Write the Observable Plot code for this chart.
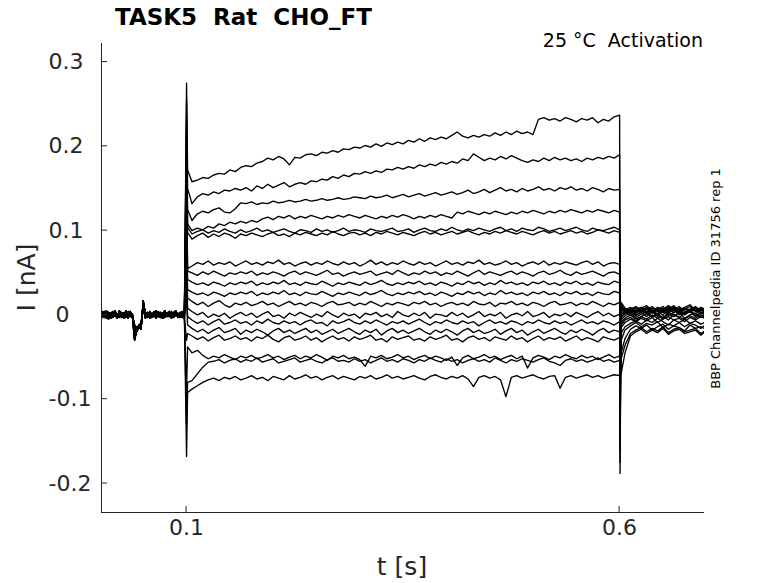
<!DOCTYPE html>
<html><head><meta charset="utf-8">
<script src="https://cdn.jsdelivr.net/npm/d3@7"></script>
<script src="https://cdn.jsdelivr.net/npm/@observablehq/plot@0.6"></script>
<style>body{margin:0;background:#fff;} svg{display:block}</style>
</head><body><div id="chart"></div>
<script>
// ---- axes / labels ----
const xDomain = [0.0018, 0.698];
const yDomain = [-0.2344, 0.322];
const xTicks = [0.1, 0.6];
const xTickLabels = ["0.1", "0.6"];
const yTicks = [-0.2, -0.1, 0, 0.1, 0.2, 0.3];
const yTickLabels = ["-0.2", "-0.1", "0", "0.1", "0.2", "0.3"];
const titleText = "TASK5\u00a0 Rat\u00a0 CHO_FT";
const condText = "25 °C\u00a0 Activation";
const sideText = "BBP Channelpedia ID 31756 rep 1";
const xLabel = "t [s]";
const yLabel = "I [nA]";

// ---- sampling (s) ----
const preDt = 0.0025;     // pre-pulse samples at k*preDt, k = 0..39
const stepDt = 0.00625;   // pulse samples at 0.1 + k*stepDt (k=0 read just after the onset spike)
const onsetT = 0.1, offsetT = 0.6;

// ---- values in pA (1/1000 nA) ----
const preA = [2,-3,4,-1,3,-4,1,5,-2,3,-3,2,-1,4,-2,1,-22,-14,-16,-12,14,3,-2,4,-3,1,5,-2,3,-4,2,-1,4,-3,2,5,-2,1,-3,3];
const preB = [-2,4,-3,1,-5,2,-1,3,-4,5,-1,2,-3,1,4,-2,-30,-18,-13,-17,17,-1,3,-4,2,-2,4,-1,-3,2,5,-2,1,-4,3,-1,2,-3,4,-1];
const preC = [4,-1,2,-4,3,1,-3,2,-2,4,1,-4,3,-1,2,-3,-18,-16,-12,-10,8,-4,1,3,-2,4,-3,2,-1,-4,3,1,-2,4,-3,2,-2,3,1,-4];
const preD = [-4,2,-1,5,-3,2,4,-2,1,-3,3,-1,5,-4,2,-1,-12,-20,-15,-14,11,2,-3,1,-1,3,-4,4,-2,1,-3,2,4,-1,-2,3,-3,1,2,-2];

const onPeak  = [275,255,235,215,195,180,160,140,120,100,80,60,40,20,-30,-90,-130,-168];
const offPeak = [-188,-175,-160,-145,-130,-115,-95,-80,-65,-50,-35,-22,-10,5,15,30,40,50];

const sweepA = [172,158,160,163,162,166,168,167,172,170,175,177,176,180,182,186,184,188,185,178,187,186,190,191,189,193,192,195,193,197,196,199,198,201,199,203,200,204,202,205,203,207,205,209,206,210,208,211,209,213,217,212,210,213,211,214,212,216,213,217,214,218,215,217,214,232,234,231,233,230,234,232,229,233,231,234,228,232,230,235,237];
const sweepB = [150,132,140,144,142,146,144,148,147,150,148,151,147,153,150,155,151,154,157,152,155,157,155,159,158,161,160,164,162,166,164,168,167,170,168,171,169,173,172,175,173,176,174,178,176,179,177,181,179,182,180,185,183,191,187,183,186,184,188,185,189,186,183,181,184,182,186,183,187,184,186,183,185,182,186,184,187,185,188,186,190];
const sweepC = [125,112,120,123,121,125,127,122,121,126,133,132,134,131,133,132,135,133,134,136,134,135,137,135,136,138,136,137,139,137,138,140,139,138,141,139,140,142,139,141,143,140,142,144,141,143,145,142,144,146,143,145,148,144,146,149,145,148,151,147,149,146,150,147,149,152,148,150,147,151,149,152,148,150,147,151,149,146,150,148,149];
const sweepD = [108,100,103,101,105,103,108,106,110,108,111,109,112,110,114,116,113,117,115,118,114,117,115,118,116,114,117,115,118,116,119,117,115,118,116,114,117,115,118,116,119,117,114,117,115,118,116,119,117,115,122,120,123,121,119,122,120,123,121,119,122,120,123,121,124,122,120,123,121,124,122,125,123,121,124,122,125,123,121,124,122];
const sweepE = [104,96,99,101,97,100,98,102,99,97,101,98,100,103,99,101,98,100,102,99,97,101,100,98,102,99,101,98,100,103,99,101,100,98,102,100,99,101,103,99,100,102,98,101,103,100,99,102,100,104,101,99,102,100,103,101,99,102,104,100,102,99,103,101,100,104,102,99,101,103,100,102,104,101,99,103,101,100,102,104,101];
const sweepF = [98,90,94,97,92,96,93,97,95,91,96,94,97,95,93,96,98,94,96,93,97,95,98,96,94,97,95,99,96,94,97,98,95,97,94,98,96,99,97,95,98,96,94,97,99,96,98,95,97,99,96,98,100,97,95,98,96,99,97,100,98,96,99,97,95,98,100,97,99,96,98,100,97,99,96,98,101,99,97,100,98];
const sweepG = [55,58,62,60,64,59,62,60,63,58,61,64,60,62,59,63,61,65,60,62,58,61,63,59,62,60,64,61,59,63,60,62,58,61,65,60,63,59,62,60,64,61,59,63,60,62,58,61,64,60,62,59,63,61,65,60,62,59,61,64,60,62,58,61,63,60,64,59,62,60,63,61,59,62,64,60,63,58,61,62,60];
const sweepH = [52,50,47,51,48,52,49,46,50,48,51,49,52,47,50,48,51,49,46,50,52,48,51,49,47,50,53,48,50,46,49,51,48,50,52,47,49,51,48,53,50,47,50,48,52,49,51,47,50,48,52,49,46,50,53,48,51,49,47,50,52,48,51,49,46,50,52,48,50,53,49,47,51,48,50,52,49,46,50,51,48];
const sweepI = [42,39,36,38,35,39,37,34,38,36,39,37,40,35,38,36,39,37,41,36,38,35,39,37,36,40,37,34,38,36,39,37,35,39,36,38,41,37,35,38,36,39,37,40,36,38,35,39,37,34,38,36,40,37,39,35,38,36,41,37,39,36,38,35,39,37,40,36,38,35,39,37,40,36,38,35,39,37,36,40,38];
const sweepJ = [30,27,24,26,23,27,25,22,26,24,27,25,28,23,26,24,27,25,29,24,26,23,27,25,24,28,25,22,26,24,27,25,23,27,24,26,29,25,23,26,24,27,25,28,24,26,23,27,25,22,26,24,28,25,27,23,26,24,29,25,27,24,26,23,27,25,28,24,26,23,27,25,28,24,26,23,27,25,24,28,26];
const sweepK = [20,16,12,15,10,14,17,12,9,14,12,15,11,13,16,12,14,10,13,16,12,14,11,15,13,10,14,16,12,13,15,11,14,12,16,13,10,14,12,15,13,11,15,13,16,12,14,10,13,15,12,14,11,16,13,12,15,10,14,13,16,12,14,11,15,13,10,14,16,12,13,15,11,14,12,16,13,10,14,12,15];
const sweepL = [8,4,0,3,-3,1,-2,2,-4,0,3,-1,2,-3,1,4,-2,0,-4,2,-1,3,0,-3,1,-2,4,0,-3,2,-1,1,-4,2,0,3,-2,1,-3,4,0,-2,2,-1,3,-4,1,0,-2,3,-1,2,-3,0,4,-2,1,-1,3,-4,0,2,-1,4,-2,0,3,-3,1,-1,2,-2,3,0,-3,1,4,-1,2,-2,1];
const sweepM = [-2,-6,-10,-7,-12,-8,-5,-11,-9,-6,-10,-8,-12,-7,-10,-5,-9,-11,-7,-10,-8,-12,-8,-6,-10,-9,-13,-7,-10,-8,-5,-9,-11,-7,-10,-6,-9,-12,-8,-10,-7,-11,-8,-5,-9,-12,-8,-10,-6,-9,-11,-7,-10,-8,-13,-9,-6,-10,-8,-11,-7,-9,-12,-8,-10,-6,-9,-11,-7,-10,-8,-12,-9,-6,-10,-8,-11,-7,-9,-12,-8];
const sweepN = [-12,-16,-20,-17,-22,-18,-15,-21,-19,-16,-23,-18,-21,-17,-20,-24,-19,-16,-21,-18,-22,-19,-16,-21,-18,-23,-20,-17,-22,-19,-16,-20,-23,-18,-21,-17,-24,-19,-16,-21,-18,-22,-19,-16,-20,-23,-18,-21,-17,-20,-24,-19,-16,-21,-18,-22,-20,-17,-23,-19,-16,-21,-18,-24,-20,-17,-22,-19,-16,-20,-23,-18,-21,-17,-20,-24,-19,-16,-21,-18,-20];
const sweepO = [-22,-25,-29,-26,-31,-27,-24,-30,-28,-25,-29,-27,-31,-26,-28,-24,-29,-32,-27,-25,-30,-28,-25,-30,-27,-32,-28,-25,-29,-27,-31,-26,-29,-27,-24,-30,-28,-32,-26,-29,-27,-25,-30,-28,-31,-26,-29,-27,-24,-30,-28,-32,-27,-25,-29,-27,-31,-26,-28,-30,-25,-29,-27,-32,-28,-25,-30,-27,-29,-26,-31,-28,-25,-30,-27,-29,-32,-26,-28,-30,-27];
const sweepP = [-38,-45,-42,-48,-52,-49,-51,-47,-50,-53,-49,-51,-48,-52,-50,-47,-51,-49,-53,-50,-48,-52,-49,-51,-47,-50,-54,-49,-51,-48,-52,-50,-53,-61,-49,-51,-48,-52,-50,-47,-51,-49,-53,-50,-48,-52,-49,-51,-54,-50,-60,-51,-48,-52,-50,-47,-51,-49,-53,-50,-48,-52,-49,-63,-51,-48,-50,-53,-49,-51,-47,-50,-52,-48,-51,-49,-53,-50,-47,-51,-49];
const sweepQ = [-80,-78,-70,-62,-56,-55,-53,-57,-54,-52,-56,-53,-55,-51,-56,-54,-52,-57,-55,-53,-51,-56,-54,-52,-55,-57,-53,-51,-55,-54,-56,-52,-55,-53,-57,-54,-51,-55,-53,-56,-52,-54,-57,-53,-55,-51,-54,-56,-52,-55,-53,-57,-54,-52,-55,-53,-56,-51,-54,-57,-53,-55,-52,-54,-56,-53,-51,-55,-57,-60,-54,-52,-55,-53,-56,-54,-51,-55,-53,-56,-54];
const sweepR = [-92,-88,-84,-80,-77,-75,-78,-74,-76,-73,-77,-75,-72,-76,-74,-78,-73,-75,-77,-72,-76,-74,-71,-75,-73,-77,-74,-72,-76,-73,-75,-77,-73,-75,-72,-76,-74,-71,-75,-73,-76,-74,-72,-75,-77,-73,-71,-74,-76,-73,-75,-72,-76,-85,-74,-72,-75,-73,-77,-97,-74,-72,-75,-73,-71,-74,-76,-73,-72,-87,-74,-72,-75,-73,-71,-74,-72,-75,-73,-71,-72];

// after the pulse: first value read just after the offset spike, then every stepDt up to 0.7 s
const tailA = [15,8,5,9,3,7,10,4,8,6,11,5,8,3,9,6,8];
const tailB = [12,6,9,4,8,11,5,7,10,4,8,6,9,12,5,8,6];
const tailC = [10,4,7,10,5,8,3,9,6,11,7,4,8,6,10,5,7];
const tailD = [8,5,2,7,9,4,8,5,3,9,6,10,4,7,5,9,6];
const tailE = [6,3,7,2,6,9,4,7,3,8,5,2,7,10,4,6,3];
const tailF = [5,7,2,5,8,3,6,1,7,4,9,5,2,6,8,3,5];
const tailG = [3,1,5,-1,4,7,2,5,0,6,3,8,1,4,6,2,4];
const tailH = [0,4,-1,3,6,1,4,-2,5,2,7,0,3,5,1,6,3];
const tailI = [-3,2,5,0,3,-2,4,1,6,-1,3,5,0,4,-2,3,1];
const tailJ = [-6,-1,2,-3,1,4,-2,2,-4,3,0,-3,2,5,-1,2,0];
const tailK = [-9,-4,0,-5,-2,2,-3,0,-5,1,-2,3,-4,0,2,-3,-1];
const tailL = [-12,-6,-3,-7,-2,-5,0,-4,-1,-6,1,-3,-5,-1,-4,0,-2];
const tailM = [-15,-9,-5,-8,-4,-7,-3,-9,-5,-2,-6,-4,-8,-3,-6,-2,-5];
const tailN = [-22,-14,-10,-7,-11,-6,-9,-4,-8,-12,-6,-9,-5,-10,-7,-11,-8];
const tailO = [-30,-18,-13,-9,-14,-10,-12,-8,-15,-11,-13,-9,-14,-10,-12,-16,-11];
const tailP = [-45,-28,-17,-13,-16,-12,-18,-14,-11,-17,-13,-15,-19,-12,-16,-14,-17];
const tailQ = [-52,-36,-22,-18,-15,-20,-16,-19,-14,-21,-17,-15,-20,-18,-16,-22,-18];
const tailR = [-70,-45,-25,-20,-17,-22,-18,-21,-16,-23,-19,-17,-22,-20,-18,-24,-19];

const preList = [preA, preB, preC, preD];
const sweeps = [sweepA,sweepB,sweepC,sweepD,sweepE,sweepF,sweepG,sweepH,sweepI,sweepJ,sweepK,sweepL,sweepM,sweepN,sweepO,sweepP,sweepQ,sweepR];
const tails = [tailA,tailB,tailC,tailD,tailE,tailF,tailG,tailH,tailI,tailJ,tailK,tailL,tailM,tailN,tailO,tailP,tailQ,tailR];

// long table
const rows = [];
sweeps.forEach((sw, j) => {
  preList[j % preList.length].forEach((v, k) => rows.push({sweep: j, t: k * preDt, i: v / 1000}));
  rows.push({sweep: j, t: onsetT, i: onPeak[j] / 1000});
  sw.forEach((v, k) => rows.push({sweep: j, t: k === 0 ? onsetT + 0.0012 : onsetT + k * stepDt, i: v / 1000}));
  rows.push({sweep: j, t: offsetT + 0.0005, i: offPeak[j] / 1000});
  tails[j].forEach((v, k) => rows.push({sweep: j, t: k === 0 ? offsetT + 0.0017 : offsetT + k * stepDt, i: v / 1000}));
});

const axisColor = "#262626";
const textColor = "#262626";
const yLab = yTicks.map((v, k) => ({v, s: yTickLabels[k]}));
const xLab = xTicks.map((v, k) => ({v, s: xTickLabels[k]}));

const svg = Plot.plot({
  width: 778, height: 583,
  marginLeft: 101, marginRight: 74, marginTop: 43, marginBottom: 71,
  style: {fontFamily: "DejaVu Sans", background: "white", overflow: "visible"},
  x: {domain: xDomain, axis: null, label: null},
  y: {domain: yDomain, axis: null, label: null},
  marks: [
    Plot.line(rows, {x: "t", y: "i", z: "sweep", stroke: "black", strokeWidth: 1.35, clip: true}),
    Plot.ruleX([xDomain[0]], {stroke: axisColor, strokeWidth: 1}),
    Plot.ruleY([yDomain[0]], {stroke: axisColor, strokeWidth: 1}),
    Plot.text(yLab.filter(d => d.v !== 0), {y: "v", text: "s", frameAnchor: "left", dx: -53, textAnchor: "start", fontSize: 22, fill: textColor}),
    Plot.text(yLab.filter(d => d.v === 0), {y: "v", text: "s", frameAnchor: "left", dx: -46, textAnchor: "start", fontSize: 22, fill: textColor}),
    Plot.text(xLab, {x: "v", text: "s", frameAnchor: "bottom", dy: 22.5, fontSize: 22, fill: textColor})
  ]
});

const s = d3.select(svg);
// inward tick marks, placed with the plot's own scales
const xs = svg.scale("x"), ys = svg.scale("y");
const left = 101, bottom = 583 - 71;
yTicks.forEach(v => {
  const y = ys.apply(v);
  s.append("line").attr("x1", left).attr("x2", left + 6).attr("y1", y).attr("y2", y)
    .attr("stroke", axisColor).attr("stroke-width", 1);
});
xTicks.forEach(v => {
  const x = xs.apply(v);
  s.append("line").attr("x1", x).attr("x2", x).attr("y1", bottom).attr("y2", bottom - 6)
    .attr("stroke", axisColor).attr("stroke-width", 1);
});

s.append("text").attr("x", 115).attr("y", 25).attr("font-size", 23).attr("font-weight", "bold")
  .attr("text-anchor", "start").attr("fill", "black").text(titleText);
s.append("text").attr("x", 703).attr("y", 47).attr("font-size", 19).attr("text-anchor", "end")
  .attr("fill", "black").text(condText);
s.append("text").attr("transform", "translate(720,278.5) rotate(-90)").attr("font-size", 13)
  .attr("text-anchor", "middle").attr("fill", "black").text(sideText);
s.append("text").attr("transform", "translate(35,277.5) rotate(-90)").attr("font-size", 25)
  .attr("text-anchor", "middle").attr("fill", textColor).text(yLabel);
s.append("text").attr("x", 402).attr("y", 575).attr("font-size", 25)
  .attr("text-anchor", "middle").attr("fill", textColor).text(xLabel);

document.getElementById("chart").appendChild(svg);
</script></body></html>
